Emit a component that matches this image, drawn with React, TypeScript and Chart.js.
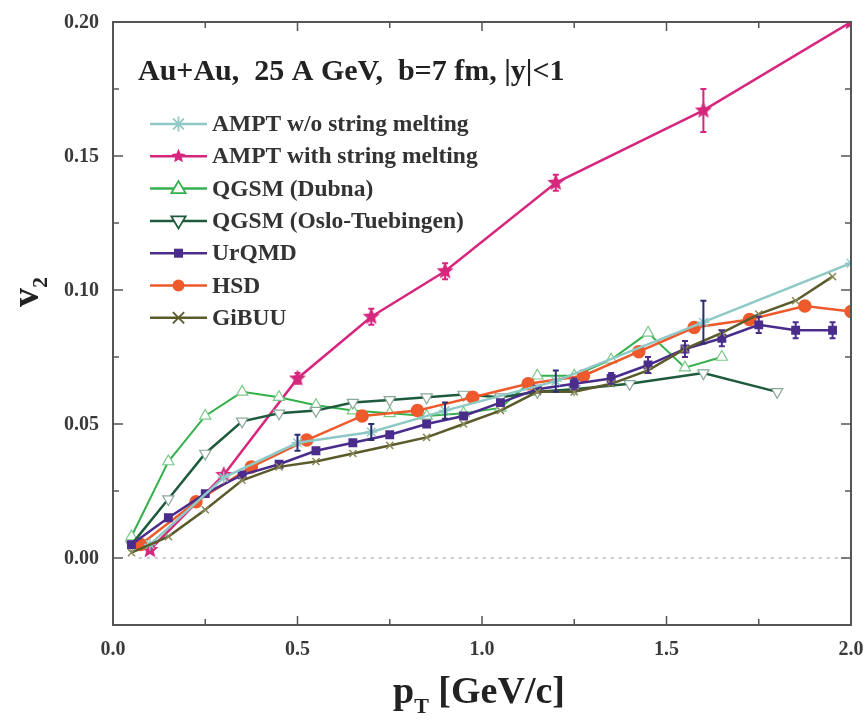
import React, { useEffect, useRef } from 'react';
import { Chart, registerables } from 'chart.js';
Chart.register(...registerables);

// ---------------- data ----------------
const amptX = [0.1, 0.3, 0.5, 0.7, 0.9, 1.2, 1.6, 2.0];
const amptNoSM = [0.005, 0.030, 0.043, 0.047, 0.055, 0.066, 0.088, 0.110];
const amptNoSMErr = [0, 0, 0.003, 0.003, 0.003, 0.004, 0.008, 0];
const amptSM = [0.003, 0.031, 0.067, 0.090, 0.107, 0.140, 0.167, 0.200];
const amptSMErr = [0, 0, 0.002, 0.003, 0.003, 0.003, 0.008, 0];

const dubnaX = [0.05, 0.15, 0.25, 0.35, 0.45, 0.55, 0.65, 0.75, 0.85, 0.95, 1.05, 1.15, 1.25, 1.35, 1.45, 1.55, 1.65];
const dubna = [0.008, 0.036, 0.053, 0.062, 0.060, 0.057, 0.055, 0.054, 0.053, 0.054, 0.056, 0.068, 0.068, 0.074, 0.084, 0.071, 0.075];

const osloX = [0.05, 0.15, 0.25, 0.35, 0.45, 0.55, 0.65, 0.75, 0.85, 0.95, 1.05, 1.15, 1.25, 1.4, 1.6, 1.8];
const oslo = [0.005, 0.022, 0.039, 0.051, 0.054, 0.055, 0.058, 0.059, 0.060, 0.061, 0.060, 0.062, 0.063, 0.065, 0.069, 0.062];

const urqmdX = [0.05, 0.15, 0.25, 0.35, 0.45, 0.55, 0.65, 0.75, 0.85, 0.95, 1.05, 1.15, 1.25, 1.35, 1.45, 1.55, 1.65, 1.75, 1.85, 1.95];
const urqmd = [0.005, 0.015, 0.024, 0.031, 0.035, 0.040, 0.043, 0.046, 0.050, 0.053, 0.058, 0.063, 0.065, 0.067, 0.072, 0.078, 0.082, 0.087, 0.085, 0.085];
const urqmdErr = [0, 0, 0, 0, 0, 0, 0, 0, 0, 0, 0, 0, 0.002, 0.002, 0.003, 0.003, 0.003, 0.003, 0.003, 0.003];

const hsdX = [0.075, 0.225, 0.375, 0.525, 0.675, 0.825, 0.975, 1.125, 1.275, 1.425, 1.575, 1.725, 1.875, 2.0];
const hsd = [0.005, 0.021, 0.034, 0.044, 0.053, 0.055, 0.060, 0.065, 0.068, 0.077, 0.086, 0.089, 0.094, 0.092];

const gibuuX = [0.05, 0.15, 0.25, 0.35, 0.45, 0.55, 0.65, 0.75, 0.85, 0.95, 1.05, 1.15, 1.25, 1.35, 1.45, 1.55, 1.65, 1.75, 1.85, 1.95];
const gibuu = [0.002, 0.008, 0.018, 0.029, 0.034, 0.036, 0.039, 0.042, 0.045, 0.050, 0.055, 0.062, 0.062, 0.065, 0.070, 0.078, 0.084, 0.091, 0.096, 0.105];

const seriesNames = [
  'AMPT w/o string melting',
  'AMPT with string melting',
  'QGSM (Dubna)',
  'QGSM (Oslo-Tuebingen)',
  'UrQMD',
  'HSD',
  'GiBUU',
];
const titleText = 'Au+Au,  25 A GeV,  b=7 fm, |y|<1';
const xTickLabels = ['0.0', '0.5', '1.0', '1.5', '2.0'];
const yTickLabels = ['0.00', '0.05', '0.10', '0.15', '0.20'];

const C_AMPT0 = '#8ec9c6';
const C_AMPT1 = '#d6267e';
const C_DUBNA = '#35b04c';
const C_OSLO = '#1e5a3c';
const C_URQMD = '#4a2c8c';
const C_HSD = '#ee5a2c';
const C_GIBUU = '#5b5a2a';

const FONT = '"Liberation Serif", "Times New Roman", serif';

function pts(xs: number[], ys: number[]) {
  return xs.map((x, i) => ({ x, y: ys[i] }));
}

function starPath(ctx: CanvasRenderingContext2D, cx: number, cy: number, r: number) {
  const ri = r * 0.45;
  ctx.beginPath();
  for (let i = 0; i < 10; i++) {
    const a = -Math.PI / 2 + (i * Math.PI) / 5;
    const rr = i % 2 === 0 ? r : ri;
    const x = cx + rr * Math.cos(a);
    const y = cy + rr * Math.sin(a);
    if (i === 0) ctx.moveTo(x, y);
    else ctx.lineTo(x, y);
  }
  ctx.closePath();
}

function makeStarCanvas(color: string, r: number) {
  const c = document.createElement('canvas');
  c.width = Math.ceil(2 * r + 2);
  c.height = Math.ceil(2 * r + 2);
  const ctx = c.getContext('2d')!;
  starPath(ctx, c.width / 2, c.height / 2, r);
  ctx.fillStyle = color;
  ctx.fill();
  return c;
}

type Marker = 'asterisk' | 'star5' | 'triUp' | 'triDown' | 'rect' | 'circle' | 'xcross';

function drawMarker(ctx: CanvasRenderingContext2D, kind: Marker, color: string, x: number, y: number, r: number) {
  ctx.save();
  ctx.strokeStyle = color;
  ctx.fillStyle = color;
  ctx.lineWidth = 1.8;
  if (kind === 'asterisk') {
    ctx.beginPath();
    for (let i = 0; i < 4; i++) {
      const a = (i * Math.PI) / 4;
      ctx.moveTo(x - r * Math.cos(a), y - r * Math.sin(a));
      ctx.lineTo(x + r * Math.cos(a), y + r * Math.sin(a));
    }
    ctx.stroke();
  } else if (kind === 'xcross') {
    ctx.beginPath();
    ctx.moveTo(x - r * 0.75, y - r * 0.75);
    ctx.lineTo(x + r * 0.75, y + r * 0.75);
    ctx.moveTo(x + r * 0.75, y - r * 0.75);
    ctx.lineTo(x - r * 0.75, y + r * 0.75);
    ctx.stroke();
  } else if (kind === 'star5') {
    starPath(ctx, x, y, r);
    ctx.fill();
  } else if (kind === 'triUp' || kind === 'triDown') {
    const s = kind === 'triUp' ? 1 : -1;
    ctx.beginPath();
    ctx.moveTo(x, y - s * r);
    ctx.lineTo(x + r * 0.95, y + s * r * 0.6);
    ctx.lineTo(x - r * 0.95, y + s * r * 0.6);
    ctx.closePath();
    ctx.fillStyle = '#ffffff';
    ctx.fill();
    ctx.stroke();
  } else if (kind === 'rect') {
    ctx.fillRect(x - r * 0.75, y - r * 0.75, r * 1.5, r * 1.5);
  } else if (kind === 'circle') {
    ctx.beginPath();
    ctx.arc(x, y, r * 0.8, 0, Math.PI * 2);
    ctx.fill();
  }
  ctx.restore();
}

const legendMarkers: Marker[] = ['asterisk', 'star5', 'triUp', 'triDown', 'rect', 'circle', 'xcross'];
const legendColors = [C_AMPT0, C_AMPT1, C_DUBNA, C_OSLO, C_URQMD, C_HSD, C_GIBUU];

const errorBarPlugin = {
  id: 'errorBars',
  afterDatasetsDraw(chart: any) {
    const ctx = chart.ctx;
    const xs = chart.scales.x;
    const ys = chart.scales.y;
    chart.data.datasets.forEach((ds: any) => {
      if (!ds.errors) return;
      ctx.save();
      ctx.strokeStyle = ds.errColor || ds.borderColor;
      ctx.lineWidth = 2;
      ds.data.forEach((p: any, i: number) => {
        const e = ds.errors[i];
        if (!e) return;
        const px = xs.getPixelForValue(p.x);
        const y1 = ys.getPixelForValue(p.y - e);
        const y2 = ys.getPixelForValue(p.y + e);
        ctx.beginPath();
        ctx.moveTo(px, y1);
        ctx.lineTo(px, y2);
        ctx.moveTo(px - 3, y1);
        ctx.lineTo(px + 3, y1);
        ctx.moveTo(px - 3, y2);
        ctx.lineTo(px + 3, y2);
        ctx.stroke();
      });
      ctx.restore();
    });
  },
};

const decorPlugin = {
  id: 'decor',
  afterDraw(chart: any) {
    const ctx: CanvasRenderingContext2D = chart.ctx;
    const a = chart.chartArea;
    const xs = chart.scales.x;
    const ys = chart.scales.y;
    ctx.save();
    // inward ticks
    ctx.strokeStyle = '#555';
    ctx.lineWidth = 1.5;
    ctx.beginPath();
    for (let k = 0; k <= 8; k++) {
      const v = k * 0.25;
      const px = xs.getPixelForValue(v);
      const len = k % 2 === 0 ? 9 : 6;
      ctx.moveTo(px, a.bottom);
      ctx.lineTo(px, a.bottom - len);
      ctx.moveTo(px, a.top);
      ctx.lineTo(px, a.top + len);
    }
    for (let k = -1; k <= 8; k++) {
      const v = k * 0.025;
      const py = ys.getPixelForValue(v);
      const len = k % 2 === 0 ? 10 : 6;
      ctx.moveTo(a.left, py);
      ctx.lineTo(a.left + len, py);
      ctx.moveTo(a.right, py);
      ctx.lineTo(a.right - len, py);
    }
    ctx.stroke();
    // frame
    ctx.strokeStyle = '#555';
    ctx.lineWidth = 2;
    ctx.strokeRect(a.left, a.top, a.right - a.left, a.bottom - a.top);

    // tick labels
    ctx.fillStyle = '#3a3a3a';
    ctx.font = `bold 20px ${FONT}`;
    ctx.textAlign = 'right';
    ctx.textBaseline = 'middle';
    yTickLabels.forEach((t) => {
      ctx.fillText(t, a.left - 14, ys.getPixelForValue(parseFloat(t)) + 1);
    });
    ctx.textAlign = 'center';
    ctx.textBaseline = 'middle';
    xTickLabels.forEach((t) => {
      ctx.fillText(t, xs.getPixelForValue(parseFloat(t)), a.bottom + 25);
    });

    // x axis title
    ctx.fillStyle = '#222';
    ctx.textBaseline = 'alphabetic';
    ctx.textAlign = 'left';
    const big = `bold 38px ${FONT}`;
    const small = `bold 22px ${FONT}`;
    const p = 'p';
    const rest = ' [GeV/c]';
    ctx.font = big;
    const wp = ctx.measureText(p).width;
    ctx.font = small;
    const wt = ctx.measureText('T').width;
    ctx.font = big;
    const wr = ctx.measureText(rest).width;
    const total = wp + wt + wr;
    const cx = 479;
    const x0 = cx - total / 2;
    const base = 703;
    ctx.fillText(p, x0, base);
    ctx.font = small;
    ctx.fillText('T', x0 + wp, base + 10);
    ctx.font = big;
    ctx.fillText(rest, x0 + wp + wt, base);

    // y axis title v2 rotated
    ctx.save();
    ctx.translate(38, 292);
    ctx.rotate(-Math.PI / 2);
    ctx.textAlign = 'left';
    ctx.font = big;
    const wv = ctx.measureText('v').width;
    ctx.font = small;
    const w2 = ctx.measureText('2').width;
    const sx = -(wv + w2) / 2;
    ctx.font = big;
    ctx.fillText('v', sx, 0);
    ctx.font = small;
    ctx.fillText('2', sx + wv, 9);
    ctx.restore();

    // plot title
    ctx.fillStyle = '#222';
    ctx.font = `bold 30px ${FONT}`;
    ctx.textAlign = 'left';
    ctx.textBaseline = 'alphabetic';
    ctx.fillText(titleText, 138, 80);

    // legend
    const rowY0 = 124;
    const rowDy = 32.3;
    seriesNames.forEach((name, i) => {
      const y = rowY0 + i * rowDy;
      const col = legendColors[i];
      ctx.strokeStyle = col;
      ctx.lineWidth = 2.5;
      ctx.beginPath();
      ctx.moveTo(150, y);
      ctx.lineTo(207, y);
      ctx.stroke();
      drawMarker(ctx, legendMarkers[i], col, 178.5, y, legendMarkers[i] === 'rect' ? 6 : 7.5);
      ctx.fillStyle = '#333';
      ctx.font = `bold 23.5px ${FONT}`;
      ctx.textAlign = 'left';
      ctx.textBaseline = 'middle';
      ctx.fillText(name, 212, y + 1);
    });
    ctx.restore();
  },
};

export default function App() {
  const ref = useRef<HTMLCanvasElement | null>(null);
  useEffect(() => {
    document.body.style.margin = '0';
    const canvas = ref.current!;
    const starImg = makeStarCanvas(C_AMPT1, 9);
    const chart = new Chart(canvas, {
      type: 'line',
      data: {
        datasets: [
          {
            label: 'zero',
            data: [{ x: 0.07, y: 0 }, { x: 2.0, y: 0 }],
            borderColor: '#bbbbbb',
            borderWidth: 1.5,
            borderDash: [3, 5],
            pointRadius: 0,
          },
          {
            label: seriesNames[6],
            data: pts(gibuuX, gibuu),
            borderColor: C_GIBUU,
            backgroundColor: C_GIBUU,
            borderWidth: 2.5,
            pointStyle: 'crossRot',
            pointRadius: 5,
            pointBorderWidth: 1.5,
            pointBorderColor: '#8a8a5a',
          },
          {
            label: seriesNames[0],
            data: pts(amptX, amptNoSM),
            borderColor: C_AMPT0,
            backgroundColor: C_AMPT0,
            borderWidth: 2.5,
            pointStyle: 'star',
            pointRadius: 6,
            pointBorderWidth: 1.5,
            errors: amptNoSMErr,
            errColor: '#2e2e6e',
          } as any,
          {
            label: seriesNames[4],
            data: pts(urqmdX, urqmd),
            borderColor: C_URQMD,
            backgroundColor: C_URQMD,
            borderWidth: 2.5,
            pointStyle: 'rect',
            pointRadius: 4.5,
            errors: urqmdErr,
          } as any,
          {
            label: seriesNames[5],
            data: pts(hsdX, hsd),
            borderColor: C_HSD,
            backgroundColor: C_HSD,
            borderWidth: 2.5,
            pointStyle: 'circle',
            pointRadius: 5.5,
          },
          {
            label: seriesNames[3],
            data: pts(osloX, oslo),
            borderColor: C_OSLO,
            backgroundColor: '#ffffff',
            borderWidth: 2.5,
            pointStyle: 'triangle',
            rotation: 180,
            pointRadius: 6.5,
            pointBorderWidth: 1.2,
            pointBorderColor: '#8aa898',
          } as any,
          {
            label: seriesNames[2],
            data: pts(dubnaX, dubna),
            borderColor: C_DUBNA,
            backgroundColor: '#ffffff',
            borderWidth: 2,
            pointStyle: 'triangle',
            pointRadius: 6.5,
            pointBorderWidth: 1.2,
            pointBorderColor: '#7cc88a',
          },
          {
            label: seriesNames[1],
            data: pts(amptX, amptSM),
            borderColor: C_AMPT1,
            backgroundColor: C_AMPT1,
            borderWidth: 2.5,
            pointStyle: starImg,
            pointRadius: 9,
            errors: amptSMErr,
          } as any,
        ],
      },
      options: {
        animation: false,
        responsive: false,
        events: [],
        layout: { padding: { top: 22, right: 17, left: 0, bottom: 0 } },
        plugins: { legend: { display: false }, tooltip: { enabled: false } },
        scales: {
          x: {
            type: 'linear',
            min: 0,
            max: 2,
            grid: { display: false },
            border: { display: false },
            ticks: { display: false, stepSize: 0.25 },
            afterFit: (s: any) => {
              s.height = 100;
            },
          },
          y: {
            type: 'linear',
            min: -0.025,
            max: 0.2,
            grid: { display: false },
            border: { display: false },
            ticks: { display: false, stepSize: 0.025 },
            afterFit: (s: any) => {
              s.width = 113;
            },
          },
        },
      },
      plugins: [errorBarPlugin, decorPlugin],
    } as any);
    return () => chart.destroy();
  }, []);
  return (
    <div style={{ width: 868, height: 725, background: '#fff' }}>
      <canvas ref={ref} width={868} height={725} style={{ display: 'block' }} />
    </div>
  );
}
